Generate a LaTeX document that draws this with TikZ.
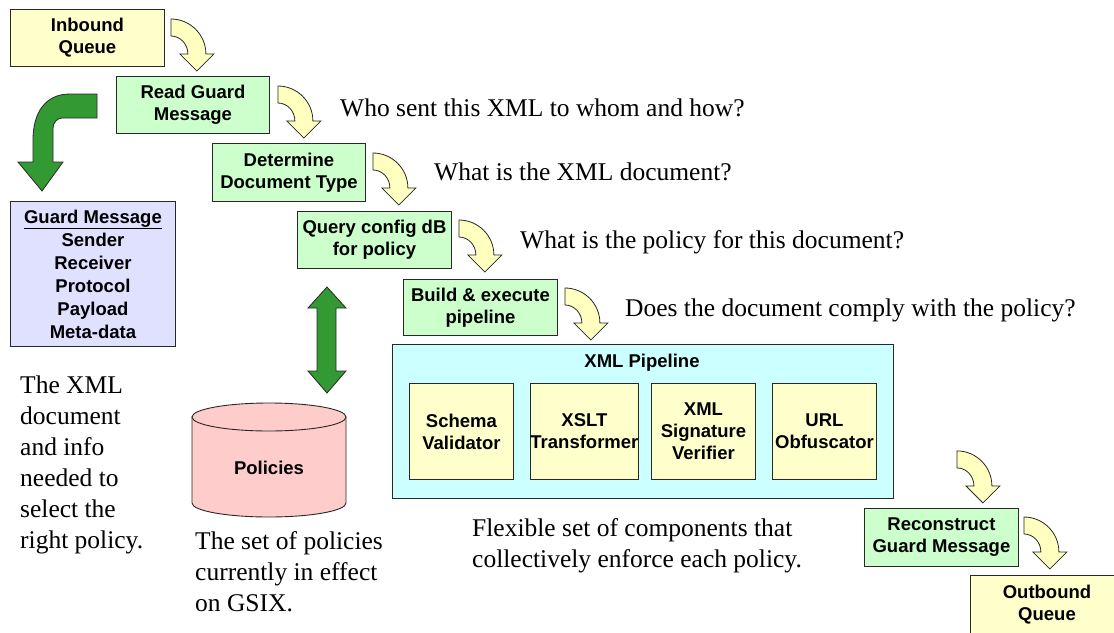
\documentclass[tikz,border=0pt]{standalone}
\usepackage{fontspec}
\setmainfont{Liberation Serif}
\setsansfont{Liberation Sans}
\usetikzlibrary{calc}
\definecolor{qyellow}{RGB}{255,255,204}
\definecolor{agreen}{RGB}{204,255,204}
\definecolor{acyan}{RGB}{204,255,255}
\definecolor{alav}{RGB}{224,224,255}
\definecolor{apink}{RGB}{255,204,204}
\definecolor{dgreen}{RGB}{51,153,51}
\definecolor{ayellow}{RGB}{255,255,192}
\definecolor{edge}{RGB}{40,40,40}
\begin{document}
\begin{tikzpicture}[x=1pt,y=-1pt,
  box/.style={draw=edge, line width=0.9pt, anchor=north west, inner sep=0pt, align=center,
    font=\sffamily\bfseries\fontsize{18.5}{22}\selectfont},
  ybox/.style={box, fill=qyellow},
  gbox/.style={box, fill=agreen},
  lbl/.style={inner sep=0pt, align=center, font=\sffamily\bfseries\fontsize{18.5}{22}\selectfont},
  q/.style={anchor=west, inner sep=0pt, align=left, font=\fontsize{25.5}{31}\selectfont},
  blockarrow/.style={draw=edge, line width=0.8pt},
  carrow/.pic={\path[blockarrow, fill=ayellow] (0,0) .. controls (19.3,0) and (35,15.7) .. (35,35)
     -- (43,35) -- (26,52) -- (9,35) -- (17,35) .. controls (17,25.1) and (9.4,17) .. (0,17) -- cycle;}
]
\useasboundingbox (0,0) rectangle (1114,632);
\clip (0,0) rectangle (1114,632);

% main flow boxes
\node[ybox, minimum width=154, minimum height=57] (inq) at (10,9) {Inbound\\Queue};
\node[gbox, minimum width=153, minimum height=57] (read) at (116,76) {Read Guard\\Message};
\node[gbox, minimum width=153, minimum height=58] (det) at (212,143) {Determine\\Document Type};
\node[gbox, minimum width=154, minimum height=57] (query) at (297,211) {Query config dB\\for policy};
\node[gbox, minimum width=154, minimum height=56] (build) at (403,279) {Build \& execute\\pipeline};

% pipeline
\node[box, fill=acyan, minimum width=501, minimum height=154] (pipe) at (392,344) {};
\node[lbl] (ptitle) at (642,363) {XML Pipeline};
\node[ybox, minimum width=104, minimum height=96] (sv) at (409,383) {Schema\\Validator};
\node[ybox, minimum width=104, minimum height=96] (xslt) at (530,383) {XSLT\\Transformer};
\node[ybox, minimum width=104, minimum height=96] (sig) at (651,383) {XML\\Signature\\Verifier};
\node[ybox, minimum width=104, minimum height=96] (url) at (772,383) {URL\\Obfuscator};

\node[gbox, minimum width=154, minimum height=58] (recon) at (864,508) {Reconstruct\\Guard Message};
\node[ybox, minimum width=200, minimum height=80] (outq) at (970,575) {};
\node[lbl] (outqt) at (1047,605) {Outbound\\Queue};

% guard message box
\node[box, fill=alav, minimum width=165, minimum height=145, font=\sffamily\bfseries\fontsize{18.5}{23}\selectfont] (gm) at (10,201)
  {\underline{Guard Message}\\Sender\\Receiver\\Protocol\\Payload\\Meta-data};

% curved yellow arrows
\pic at ($(inq.north east)+(6,10)$) {carrow};
\pic at ($(read.north east)+(8,10)$) {carrow};
\pic at ($(det.north east)+(7,10)$) {carrow};
\pic at ($(query.north east)+(7,9)$) {carrow};
\pic at ($(build.north east)+(7,9)$) {carrow};
\pic at ($(pipe.south east)+(63,-48)$) {carrow};
\pic at ($(recon.north east)+(5,9)$) {carrow};

% green bent arrow
\path[blockarrow, fill=dgreen] (97,94) -- (70,94) .. controls (45,94) and (33,113) .. (33,140)
  -- (33,162) -- (18,162) -- (42,191) -- (63,162) -- (53,162) -- (53,128)
  .. controls (53,123) and (57,118) .. (62,118) -- (97,118) -- cycle;

% green double arrow
\path[blockarrow, fill=dgreen] (327,287) -- (346,308) -- (336,308) -- (336,371) -- (346,371)
  -- (327,393) -- (308,371) -- (317,371) -- (317,308) -- (308,308) -- cycle;

% policies cylinder
\path[draw=edge, line width=0.9pt, fill=apink] (192,417) -- (192,503)
  arc[start angle=180, end angle=0, x radius=77, y radius=14] -- (346,417) -- cycle;
\draw[draw=edge, line width=0.9pt, fill=apink] (269,417) ellipse[x radius=77, y radius=14];
\node[lbl] (pol) at (269,468) {Policies};

% questions and notes
\node[q] (q1) at (340,108) {Who sent this XML to whom and how?};
\node[q] (q2) at (434,172) {What is the XML document?};
\node[q] (q3) at (520,242) {What is the policy for this document?};
\node[q] (q4) at (625,310) {Does the document comply with the policy?};
\node[q] (n1) at (20,465) {The XML\\document\\and info\\needed to\\select the\\right policy.};
\node[q] (n2) at (195,572) {The set of policies\\currently in effect\\on GSIX.};
\node[q] (n3) at (472,546) {Flexible set of components that\\collectively enforce each policy.};
\end{tikzpicture}
\end{document}
